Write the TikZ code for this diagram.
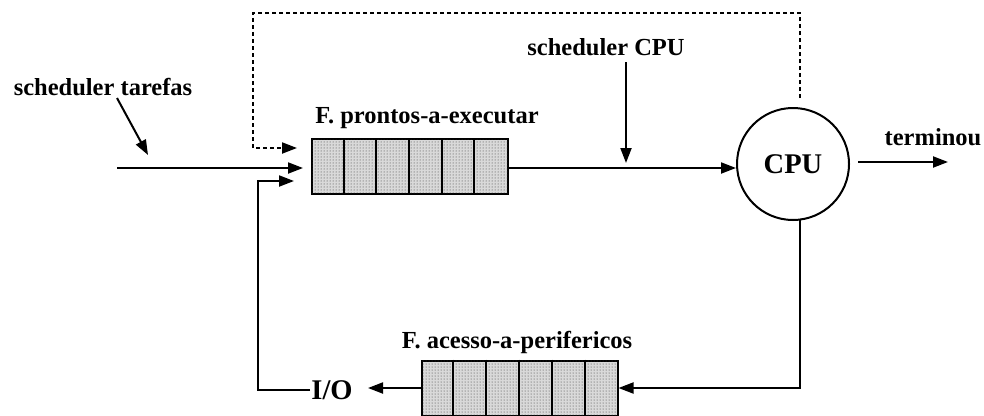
\documentclass[tikz,border=0pt]{standalone}
\usepackage{fontspec}
\setmainfont{Liberation Serif}
\usetikzlibrary{arrows.meta,patterns,calc}
\begin{document}
\begin{tikzpicture}[x=1pt,y=-1pt,
  arr/.style={line width=2pt,-{Triangle[length=15pt,width=11pt]}},
  dasharr/.style={line width=2pt,dash pattern=on 4pt off 3pt,-{Triangle[length=15pt,width=11pt]}},
  queue/.style={draw,line width=2pt,minimum width=196pt,minimum height=55pt,inner sep=0pt,
    fill=gray!30,postaction={pattern=dots,pattern color=black!80}},
  lbl/.style={font=\fontsize{24.5}{28}\selectfont\bfseries,inner sep=0pt},
  big/.style={font=\fontsize{28.5}{32}\selectfont\bfseries,inner sep=1pt}]
\useasboundingbox (0,0) rectangle (984,415);

% queues
\node[queue] (q1) at (410,166.5) {};
\foreach \i in {1,...,5}{
  \draw[line width=2pt] ($(q1.north west)+(\i*32.67,0)$) -- ($(q1.south west)+(\i*32.67,0)$);
}
\node[queue] (q2) at (519.5,388) {};
\foreach \i in {1,...,5}{
  \draw[line width=2pt] ($(q2.north west)+(\i*32.83,0)$) -- ($(q2.south west)+(\i*32.83,0)$);
}

% CPU
\node[draw,circle,line width=2pt,minimum size=112pt,inner sep=0pt,big] (cpu) at (793,164) {CPU};

% labels
\node[lbl] (lq1) at (427,118) {F. prontos-a-executar};
\node[lbl] (lq2) at (517,342) {F. acesso-a-perifericos};
\node[lbl] (lst) at (103,87) {scheduler tarefas};
\node[lbl] (lsc) at (606,47) {scheduler CPU};
\node[lbl] (lterm) at (933,137) {terminou};
\node[big] (io) at (332,390) {I/O};

% coordinates
\coordinate (inS) at (117,168);
\coordinate (inE) at (303,168);
\coordinate (dS) at (800,98);
\coordinate (dE) at (297,148);
\coordinate (fbE) at (294,181);
\coordinate (stS) at (117,98);
\coordinate (stE) at (148,155);
\coordinate (scS) at (626,62);
\coordinate (scE) at (626,163);
\coordinate (tS) at (858,162);
\coordinate (tE) at (948,162);
\coordinate (cpuB) at (800,219);
\coordinate (ioT) at (368,388);

% connectors
\draw[arr] (inS) -- (inE);
\draw[dasharr] (dS) -- (800,13) -| (253,148) -- (dE);
\draw[arr] (stS) -- (stE);
\draw[arr] (scS) -- (scE);
\draw[arr] (q1.east |- inS) -- (cpu.west |- inS);
\draw[arr] (tS) -- (tE);
\draw[arr] (cpuB) |- (q2.east);
\draw[arr] (q2.west) -- (ioT);
\draw[arr] (io.west) -| (258,181) -- (fbE);
\end{tikzpicture}
\end{document}
